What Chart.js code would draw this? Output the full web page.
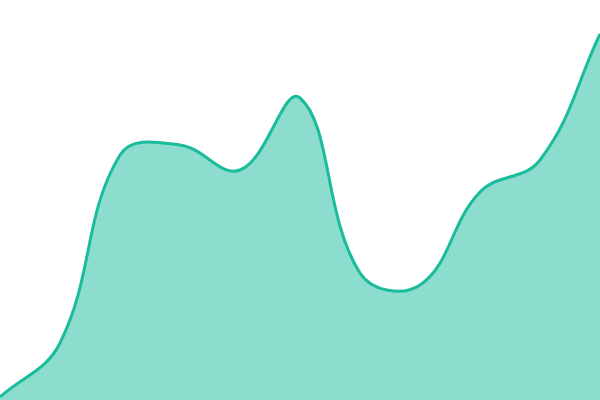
<!DOCTYPE html>
<html>
<head>
<meta charset="utf-8">
<script src="https://cdn.jsdelivr.net/npm/chart.js@4/dist/chart.umd.min.js"></script>
<style>
  html, body { margin: 0; padding: 0; background: #fff; }
  #wrap { width: 600px; height: 400px; }
</style>
</head>
<body>
<div id="wrap"><canvas id="areaChart"></canvas></div>
<script>
const color = {
  Teal: "#1abc9c",
  TealFill: "rgba(26, 188, 156, 0.5)",
};

const labels = ["1", "2", "3", "4", "5", "6", "7", "8", "9", "10", "11"];
const values = [3, 57, 245, 255, 230, 302, 127, 115, 208, 240, 366];

const areaConfig = {
  type: "line",
  data: {
    labels: labels,
    datasets: [
      {
        data: values,
        borderColor: color.Teal,
        backgroundColor: color.TealFill,
        borderWidth: 3,
        fill: "origin",
        tension: 0.4,
        pointRadius: 0,
      },
    ],
  },
  options: {
    responsive: true,
    maintainAspectRatio: false,
    animation: false,
    layout: { padding: 0 },
    plugins: {
      legend: { display: false },
      tooltip: { enabled: false },
    },
    scales: {
      x: { display: false, offset: false },
      y: { display: false, min: 0, max: 400 },
    },
  },
};

const areaChart = new Chart(document.getElementById("areaChart"), areaConfig);
</script>
</body>
</html>
